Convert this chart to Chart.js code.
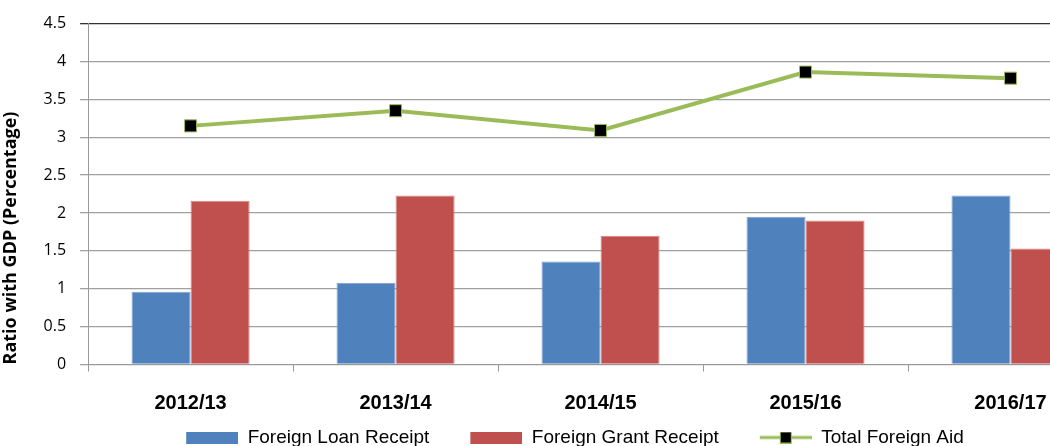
<!DOCTYPE html>
<html>
<head>
<meta charset="utf-8">
<script src="https://cdn.jsdelivr.net/npm/chart.js@4/dist/chart.umd.min.js"></script>
<style>
  html, body { margin: 0; padding: 0; background: #fff; overflow: hidden; }
  #wrap { width: 1146px; height: 446px; }
</style>
</head>
<body>
<div id="wrap"><canvas id="aid_chart" width="1146" height="446"></canvas></div>
<script>
// Data
var years = ['2012/13', '2013/14', '2014/15', '2015/16', '2016/17'];
var loan_receipt = [0.96, 1.08, 1.36, 1.95, 2.23];
var grant_receipt = [2.16, 2.23, 1.70, 1.90, 1.53];
var total_aid = [3.15, 3.35, 3.09, 3.86, 3.78];

var BLUE = '#4F81BD', RED = '#C0504D', GREEN = '#9BBB59';
var SANS = "'Liberation Sans', Arial, sans-serif";

// Legend symbols: a blank gap on the left, then the coloured mark
var SYMBOL_W = 89, MARK_W = 52;
function legend_box(color) {
    var c = document.createElement('canvas');
    c.width = SYMBOL_W; c.height = 12;
    var g = c.getContext('2d');
    g.fillStyle = color;
    g.fillRect(SYMBOL_W - MARK_W, 0, MARK_W, 12);
    return c;
}
function legend_line() {
    var c = document.createElement('canvas');
    c.width = SYMBOL_W; c.height = 12;
    var g = c.getContext('2d');
    var x0 = SYMBOL_W - MARK_W;
    g.strokeStyle = GREEN; g.lineWidth = 3;
    g.beginPath(); g.moveTo(x0, 6); g.lineTo(SYMBOL_W, 6); g.stroke();
    g.fillStyle = GREEN; g.fillRect(x0 + 20, 0, 12, 12);
    g.fillStyle = '#000'; g.fillRect(x0 + 21, 1, 10, 10);
    return c;
}
var symbols = [legend_box(BLUE), legend_box(RED), legend_line()];

var context = document.getElementById('aid_chart').getContext('2d');
var aid_chart = new Chart(context, {
    data: {
        labels: years,
        datasets: [{
            type: 'line',
            label: 'Total Foreign Aid',
            data: total_aid,
            borderColor: GREEN,
            borderWidth: 4,
            pointStyle: 'rect',
            pointRadius: 8.5,
            pointBackgroundColor: '#000',
            pointBorderColor: GREEN,
            pointBorderWidth: 1,
            tension: 0,
            order: 0
        }, {
            type: 'bar',
            label: 'Foreign Loan Receipt',
            data: loan_receipt,
            backgroundColor: BLUE,
            borderColor: '#7FA3D3',
            borderWidth: 1,
            barPercentage: 1,
            categoryPercentage: 0.576,
            order: 1
        }, {
            type: 'bar',
            label: 'Foreign Grant Receipt',
            data: grant_receipt,
            backgroundColor: RED,
            borderColor: '#D98583',
            borderWidth: 1,
            barPercentage: 1,
            categoryPercentage: 0.576,
            order: 1
        }]
    },
    options: {
        responsive: false,
        animation: false,
        layout: { padding: { top: 6, right: 33, left: 0, bottom: -11 } },
        plugins: {
            tooltip: { enabled: false },
            legend: {
                position: 'bottom',
                labels: {
                    usePointStyle: true,
                    pointStyleWidth: SYMBOL_W,
                    boxHeight: 12,
                    padding: 4,
                    color: '#000',
                    font: { family: SANS, size: 19 },
                    generateLabels: function (chart) {
                        var order = [1, 2, 0];
                        return order.map(function (i, k) {
                            return {
                                text: chart.data.datasets[i].label,
                                pointStyle: symbols[k],
                                datasetIndex: i,
                                hidden: false,
                                fontColor: '#000',
                                lineWidth: 0
                            };
                        });
                    }
                }
            }
        },
        scales: {
            x: {
                offset: true,
                grid: {
                    offset: true,
                    drawOnChartArea: false,
                    drawTicks: true,
                    tickLength: 7,
                    color: '#999'
                },
                border: { color: '#999' },
                ticks: {
                    color: '#000',
                    padding: 20,
                    font: { family: SANS, size: 20, weight: 'bold' }
                },
                afterFit: function (scale) { scale.height -= 11.5; }
            },
            y: {
                min: 0,
                max: 4.5,
                ticks: {
                    stepSize: 0.5,
                    color: '#000',
                    padding: 14,
                    font: { family: "'Open Sans', 'Liberation Sans', sans-serif", size: 16 },
                    callback: function (v) { return String(v); }
                },
                grid: {
                    color: function (c) { return c.tick && c.tick.value === 4.5 ? '#333' : '#A0A0A0'; },
                    tickLength: 8,
                    lineWidth: 1.3
                },
                border: { color: '#999' },
                title: {
                    display: true,
                    align: 'start',
                    text: 'Ratio with GDP (Percentage)',
                    color: '#000',
                    padding: { top: 0, bottom: 8 },
                    font: { family: "'Open Sans', 'Liberation Sans', sans-serif", size: 18, weight: 'bold' }
                }
            }
        }
    }
});
</script>
</body>
</html>
